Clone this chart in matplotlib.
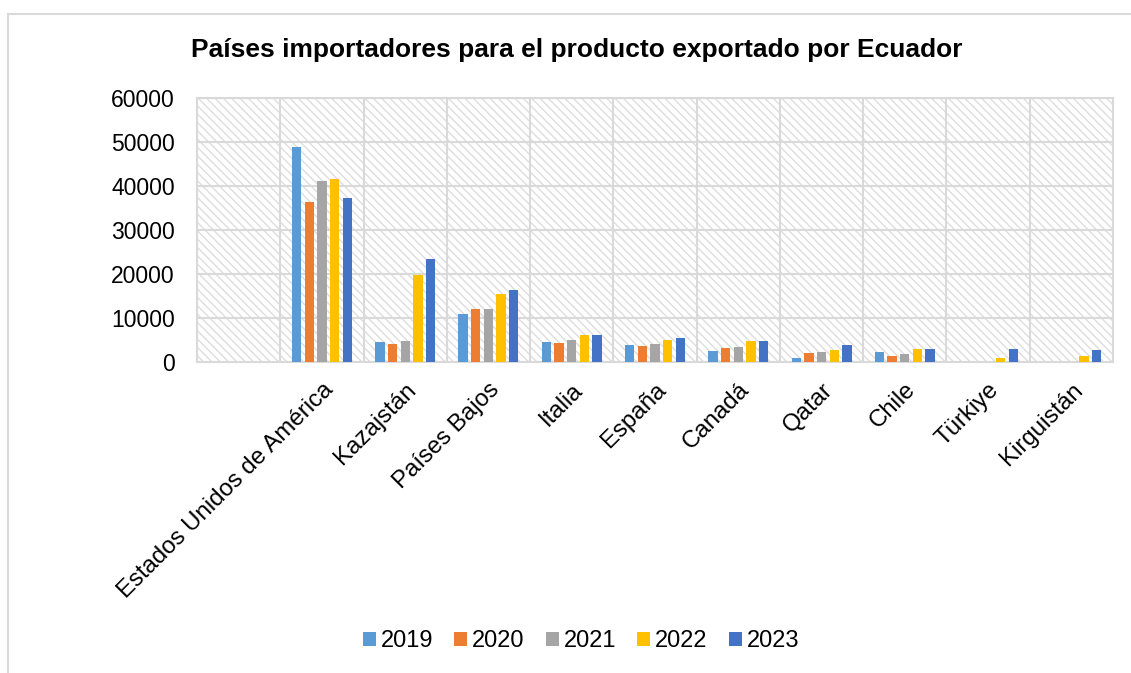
import matplotlib.pyplot as plt
from matplotlib.patches import Rectangle
from matplotlib.lines import Line2D
import numpy as np

plt.rcParams["font.family"] = ["Liberation Sans", "DejaVu Sans"]

# first slot is an empty category
paises = ["", "Estados Unidos de América", "Kazajstán", "Países Bajos", "Italia",
          "España", "Canadá", "Qatar", "Chile", "Türkiye", "Kirguistán"]
anios = ["2019", "2020", "2021", "2022", "2023"]
v2019 = [0, 48800, 4500, 10900, 4500, 3900, 2600, 1000, 2200, 0, 0]
v2020 = [0, 36400, 4200, 12000, 4300, 3600, 3200, 2000, 1400, 0, 0]
v2021 = [0, 41200, 4800, 12000, 5000, 4100, 3300, 2300, 1800, 0, 0]
v2022 = [0, 41500, 19700, 15500, 6200, 5000, 4800, 2700, 3000, 1000, 1400]
v2023 = [0, 37300, 23300, 16400, 6100, 5500, 4800, 3800, 3000, 3000, 2700]
colores = ["#5B9BD5", "#ED7D31", "#A5A5A5", "#FFC000", "#4472C4"]

series = [v2019, v2020, v2021, v2022, v2023]

fig = plt.figure(figsize=(11.31, 6.73), dpi=100)
ax = fig.add_axes([197 / 1131, 1 - 362 / 673, 916 / 1131, 264 / 673])

# hatched plot-area background
ax.patch.set_visible(False)
fondo = Rectangle((0, 0), 1, 1, transform=ax.transAxes, facecolor="white",
                  edgecolor="#dedede", hatch="\\\\\\\\", linewidth=0, zorder=0)
ax.add_patch(fondo)

x = np.arange(len(paises))
paso = 0.152
ancho = 0.112
for i, (anio, vals, c) in enumerate(zip(anios, series, colores)):
    ax.bar(x + (i - 2) * paso, vals, width=ancho, color=c, label=anio, zorder=3)

ax.set_xlim(-0.5, len(paises) - 0.5)
ax.set_ylim(0, 60000)
ax.set_yticks(range(0, 60001, 10000))
ax.set_xticks(x)
ax.set_xticklabels(paises, rotation=45, ha="right", va="top",
                   rotation_mode="anchor", fontsize=17.3)
ax.set_xticks(np.arange(0.5, len(paises) - 0.5, 1), minor=True)
ax.tick_params(axis="both", which="both", length=0)
ax.tick_params(axis="y", labelsize=16.5, pad=16)
ax.tick_params(axis="x", pad=12)
ax.grid(axis="y", color="#d9d9d9", linewidth=1.5, zorder=1)
ax.grid(axis="x", which="minor", color="#d9d9d9", linewidth=1.5, zorder=1)
ax.set_axisbelow(True)
for s in ax.spines.values():
    s.set_color("#d9d9d9")
    s.set_linewidth(1.5)

fig.text(577 / 1131, 1 - 50 / 673, "Países importadores para el producto exportado por Ecuador",
         ha="center", va="center", fontsize=19, fontweight="bold")

ax.legend(loc="center", bbox_to_anchor=(581 / 1131, 1 - 641 / 673),
          bbox_transform=fig.transFigure, ncol=5, frameon=False, fontsize=17,
          handlelength=0.55, handleheight=0.55, handletextpad=0.2, columnspacing=0.9)

# chart-area frame
fig.add_artist(Line2D([8 / 1131, 8 / 1131], [0, 1 - 14 / 673],
                      transform=fig.transFigure, color="#d9d9d9", linewidth=1.5))
fig.add_artist(Line2D([8 / 1131, 1], [1 - 14 / 673, 1 - 14 / 673],
                      transform=fig.transFigure, color="#d9d9d9", linewidth=1.5))

fig.savefig("out.png", dpi=100)
